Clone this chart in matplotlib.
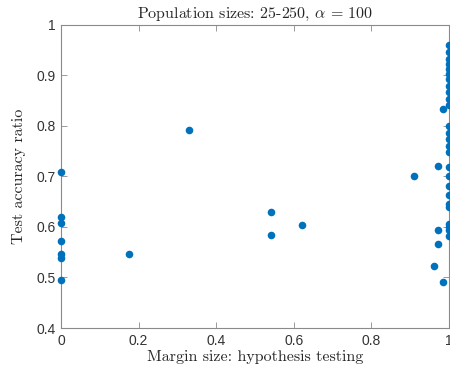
import matplotlib
matplotlib.use("Agg")
import matplotlib.pyplot as plt

plt.rcParams['mathtext.fontset'] = 'cm'

margin = [0, 0, 0, 0, 0, 0, 0,
          0.175, 0.33, 0.54, 0.54, 0.62, 0.91,
          0.984, 0.972, 0.971, 0.971, 0.961, 0.985,
          1, 1, 1, 1, 1, 1, 1, 1, 1, 1, 1, 1, 1, 1, 1, 1, 1, 1, 1, 1, 1, 1, 1, 1, 1, 1]
accuracy = [0.708, 0.619, 0.608, 0.572, 0.547, 0.539, 0.495,
            0.547, 0.792, 0.630, 0.583, 0.603, 0.700,
            0.833, 0.720, 0.594, 0.567, 0.522, 0.490,
            0.960, 0.945, 0.932, 0.922, 0.912, 0.902, 0.892, 0.878, 0.866, 0.853, 0.840,
            0.800, 0.786, 0.773, 0.760, 0.748, 0.718, 0.700, 0.680, 0.662, 0.645,
            0.640, 0.606, 0.594, 0.582, 0.600]

xticks = [0, 0.2, 0.4, 0.6, 0.8, 1]
yticks = [0.4, 0.5, 0.6, 0.7, 0.8, 0.9, 1]

fig = plt.figure(figsize=(4.5, 3.75), dpi=100)
ax = fig.add_axes([61/450, 47/375, 388/450, 303.5/375])
ax.scatter(margin, accuracy, s=30, color='#0072BD', zorder=3, clip_on=False, linewidths=0)
ax.set_xlim(0, 1)
ax.set_ylim(0.4, 1)
ax.set_xticks(xticks)
ax.set_yticks(yticks)
ax.set_xticklabels(['0', '0.2', '0.4', '0.6', '0.8', '1'])
ax.set_yticklabels(['0.4', '0.5', '0.6', '0.7', '0.8', '0.9', '1'])
for sp in ax.spines.values():
    sp.set_color('#8a8a8a')
    sp.set_linewidth(0.8)
ax.tick_params(direction='in', length=4, width=0.6, color='#8a8a8a',
               top=True, right=True, labelsize=10, labelcolor='#333333', pad=4)
for lbl in ax.get_xticklabels() + ax.get_yticklabels():
    lbl.set_fontfamily('Liberation Sans')
ax.set_xlabel('Margin size: hypothesis testing', fontfamily='cmr10', fontsize=11.5,
              color='#262626', labelpad=2)
ax.set_ylabel('Test accuracy ratio', fontfamily='cmr10', fontsize=11.5,
              color='#262626', labelpad=7)
ax.set_title(r'Population sizes: 25-250, $\alpha\, =\, 100$', fontfamily='cmr10',
             fontsize=11.5, color='#262626', pad=5)
fig.savefig('out.png', dpi=100)
